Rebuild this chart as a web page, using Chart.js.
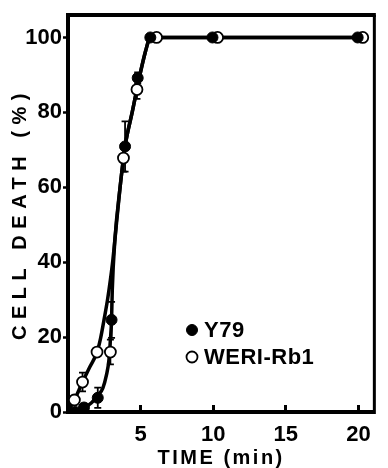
<!DOCTYPE html>
<html>
<head>
<meta charset="utf-8">
<script src="https://cdn.jsdelivr.net/npm/chart.js@4.4.1/dist/chart.umd.min.js"></script>
<style>
html,body{margin:0;padding:0;background:#fff;}
#wrap{width:388px;height:468px;position:relative;}
</style>
</head>
<body>
<div id="wrap"><canvas id="c" width="388" height="468"></canvas></div>
<script>
// ---- data ----
const xTicks = [5, 10, 15, 20];
const yTicks = [0, 20, 40, 60, 80, 100];
const seriesNames = ['Y79', 'WERI-Rb1'];
const xTitle = 'TIME (min)';
const yTitle = 'CELL DEATH (%)';

// measured points (time in min, cell death in %)
const y79Time  = [0.5, 1.1, 2.05, 3.0, 3.93, 4.8, 5.67, 9.95, 19.95];
const y79Death = [0, 1.2, 3.8, 24.6, 70.9, 89.2, 100, 100, 100];
const y79Err   = [0, 1.0, 2.7, 4.8, 6.7, 1.5, 0, 0, 0];

const weriTime  = [0.44, 1.0, 2.0, 2.92, 3.82, 4.75, 6.1, 10.3, 20.3];
const weriDeath = [3.2, 8.0, 16, 16, 67.8, 86.1, 100, 100, 100];
const weriErr   = [1.0, 2.5, 0, 3.3, 3.6, 2.5, 0, 0, 0];

// drawn curves, read along the lines of the reference
const y79CurveTime  = [0, 0.5, 1.1, 1.6, 2.05, 2.4, 2.65, 2.82, 2.92, 3.0, 3.05, 3.23, 3.57, 3.93, 4.43, 4.93, 5.34, 5.6, 5.87, 20.1];
const y79CurveDeath = [0, 0.3, 1.1, 2.4, 4.3, 6.4, 9.9, 13.9, 19.3, 24.6, 32.6, 46, 59.4, 70.9, 80.2, 89.6, 96.3, 99.5, 100, 100];
const weriCurveTime  = [0, 0.44, 1.0, 1.5, 2.0, 2.25, 2.48, 2.72, 2.92, 3.09, 3.23, 3.57, 3.93, 4.43, 4.93, 5.34, 5.6, 5.87, 20.1];
const weriCurveDeath = [0, 3.2, 8, 12, 16, 19.8, 24.6, 29.9, 35.3, 40.6, 46, 59.4, 70.9, 80.2, 89.6, 96.3, 99.5, 100, 100];

const pts = (xs, ys) => xs.map((x, i) => ({x: x, y: ys[i]}));

// ---- plugins ----
const titleSpacing = {
  id: 'titleSpacing',
  beforeDraw(chart) {
    const cfg = {x: '2.5px', y: '6.5px'};
    Object.keys(cfg).forEach(id => {
      const s = chart.scales[id];
      if (s && !s._spacedTitle) {
        const orig = s.drawTitle.bind(s);
        s.drawTitle = function () {
          const ctx = this.ctx;
          ctx.save();
          ctx.letterSpacing = cfg[id];
          orig();
          ctx.restore();
        };
        s._spacedTitle = true;
      }
    });
  }
};

const errorBars = {
  id: 'errorBars',
  beforeDatasetsDraw(chart) {
    const ctx = chart.ctx, xs = chart.scales.x, ys = chart.scales.y;
    ctx.save();
    ctx.strokeStyle = '#000';
    ctx.lineWidth = 1.8;
    const groups = [[y79Time, y79Death, y79Err], [weriTime, weriDeath, weriErr]];
    groups.forEach(([t, v, e]) => {
      t.forEach((tt, i) => {
        if (!e[i]) return;
        const x = xs.getPixelForValue(tt);
        const y1 = ys.getPixelForValue(v[i] + e[i]);
        const y2 = ys.getPixelForValue(v[i] - e[i]);
        ctx.beginPath();
        ctx.moveTo(x, y1); ctx.lineTo(x, y2);
        ctx.moveTo(x - 3.5, y1); ctx.lineTo(x + 3.5, y1);
        ctx.moveTo(x - 3.5, y2); ctx.lineTo(x + 3.5, y2);
        ctx.stroke();
      });
    });
    ctx.restore();
  }
};

const frame = {
  id: 'frame',
  afterDraw(chart) {
    const ctx = chart.ctx, a = chart.chartArea;
    ctx.save();
    ctx.strokeStyle = '#000';
    ctx.lineWidth = 4;
    ctx.beginPath();
    ctx.moveTo(a.left - 2, a.top);
    ctx.lineTo(a.right + 1.5, a.top);
    ctx.stroke();
    ctx.lineWidth = 3;
    ctx.beginPath();
    ctx.moveTo(a.right, a.top);
    ctx.lineTo(a.right, a.bottom + 2);
    ctx.stroke();
    ctx.restore();
  }
};

const innerLegend = {
  id: 'innerLegend',
  afterDatasetsDraw(chart) {
    const ctx = chart.ctx;
    const rows = [
      {ds: chart.data.datasets[0], y: 330},
      {ds: chart.data.datasets[1], y: 357}
    ];
    ctx.save();
    rows.forEach(r => {
      ctx.beginPath();
      ctx.arc(192, r.y, r.ds.pointRadius, 0, Math.PI * 2);
      ctx.fillStyle = r.ds.pointBackgroundColor;
      ctx.fill();
      ctx.lineWidth = r.ds.pointBorderWidth;
      ctx.strokeStyle = r.ds.pointBorderColor;
      ctx.stroke();
      ctx.fillStyle = '#000';
      ctx.font = 'bold 22px "Liberation Sans", Arial, sans-serif';
      ctx.letterSpacing = '0.5px';
      ctx.textAlign = 'left';
      ctx.textBaseline = 'middle';
      ctx.fillText(r.ds.label, 204, r.y + 1);
    });
    ctx.restore();
  }
};

// ---- chart ----
const tickFont = {family: '"Liberation Sans", Arial, sans-serif', size: 22, weight: 'bold'};
const titleFont = {family: '"Liberation Sans", Arial, sans-serif', size: 20, weight: 'bold', lineHeight: 1};

new Chart(document.getElementById('c').getContext('2d'), {
  type: 'scatter',
  data: {
    datasets: [
      {label: seriesNames[0], data: pts(y79Time, y79Death), showLine: false,
       pointRadius: 5.5, pointBackgroundColor: '#000', pointBorderColor: '#000', pointBorderWidth: 1, order: 0},
      {label: seriesNames[1], data: pts(weriTime, weriDeath), showLine: false,
       pointRadius: 5.5, pointBackgroundColor: '#fff', pointBorderColor: '#000', pointBorderWidth: 1.8, order: 0},
      {label: seriesNames[0] + ' curve', data: pts(y79CurveTime, y79CurveDeath), showLine: true,
       pointRadius: 0, borderColor: '#000', borderWidth: 3.5, cubicInterpolationMode: 'monotone', order: 1},
      {label: seriesNames[1] + ' curve', data: pts(weriCurveTime, weriCurveDeath), showLine: true,
       pointRadius: 0, borderColor: '#000', borderWidth: 3.5, cubicInterpolationMode: 'monotone', order: 1}
    ]
  },
  options: {
    responsive: false,
    animation: false,
    devicePixelRatio: 1,
    layout: {padding: {top: 15, right: 5, left: 0, bottom: 0}},
    plugins: {legend: {display: false}, tooltip: {enabled: false}},
    scales: {
      x: {
        type: 'linear', min: 0, max: 21.1,
        afterBuildTicks: s => { s.ticks = xTicks.map(v => ({value: v})); },
        afterFit: s => { s.height = 56; },
        grid: {drawOnChartArea: false, drawTicks: true, tickLength: -7, tickWidth: 3, color: '#000'},
        border: {display: true, width: 4, color: '#000'},
        ticks: {color: '#000', font: tickFont, padding: 17, maxRotation: 0, autoSkip: false},
        title: {display: true, text: xTitle, color: '#000', font: titleFont, padding: {top: 0, bottom: 0}}
      },
      y: {
        type: 'linear', min: 0, max: 106,
        afterBuildTicks: s => { s.ticks = yTicks.map(v => ({value: v})); },
        afterFit: s => { s.width = 68; },
        grid: {drawOnChartArea: false, drawTicks: true, tickLength: 5, tickWidth: 2.5, color: '#000'},
        border: {display: true, width: 4, color: '#000'},
        ticks: {color: '#000', font: tickFont, padding: 1, autoSkip: false},
        title: {display: true, text: yTitle, color: '#000', font: titleFont, padding: {top: 10, bottom: 0}}
      }
    }
  },
  plugins: [titleSpacing, errorBars, frame, innerLegend]
});
</script>
</body>
</html>
